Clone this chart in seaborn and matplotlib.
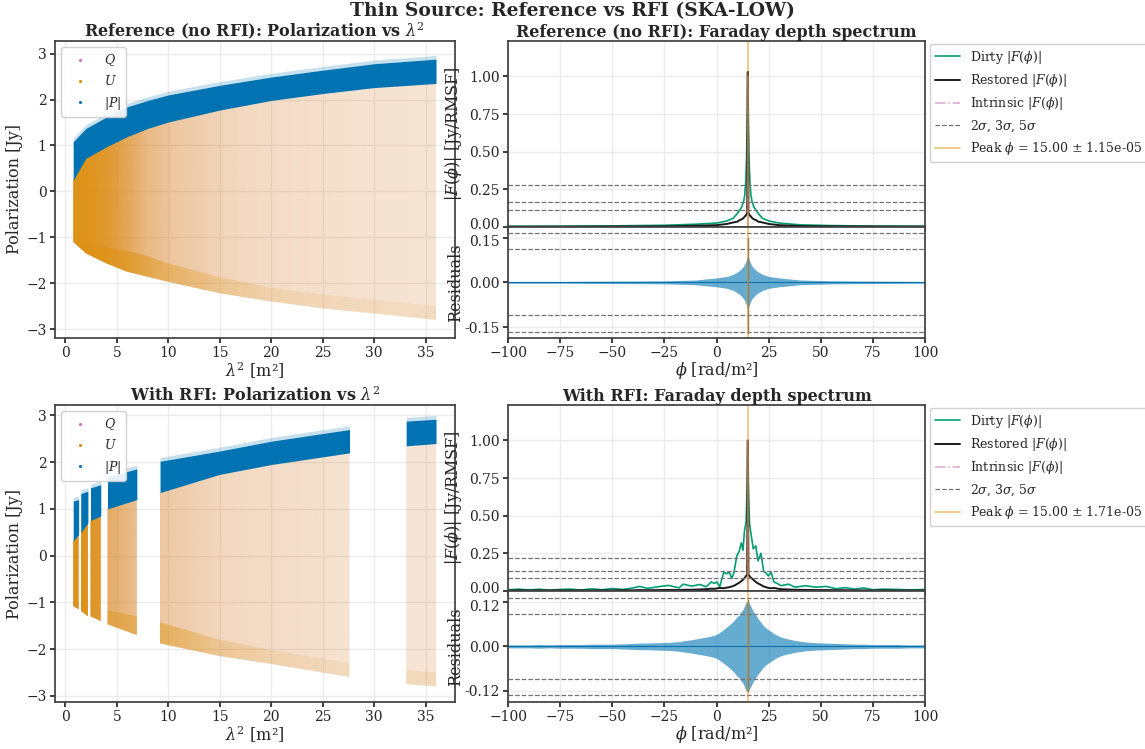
import numpy as np
import matplotlib
matplotlib.use("Agg")
import matplotlib.pyplot as plt
import matplotlib.transforms as mtransforms
import seaborn as sns
from matplotlib.colors import to_rgb
from matplotlib.lines import Line2D

# Data #

# left panels: envelopes of the Q/U/|P| scatter
lam2_ref = [0.77, 2, 4, 6, 8, 10, 15, 20, 25, 30, 36]
p_hi_ref = [1.08, 1.37, 1.62, 1.84, 1.98, 2.10, 2.31, 2.49, 2.64, 2.78, 2.88]
p_lo_ref = [0.24, 0.72, 0.97, 1.19, 1.37, 1.51, 1.77, 1.98, 2.13, 2.26, 2.35]
qu_lo_ref = [-1.10, -1.35, -1.57, -1.75, -1.86, -1.97, -2.22, -2.40, -2.55, -2.66, -2.80]
qu_dens_ref = [1.0, 1.0, 0.9, 0.7, 0.5, 0.4, 0.28, 0.22, 0.2, 0.18, 0.17]
edge_w_ref = [0.0, 0.2, 0.35, 0.45, 0.45, 0.4, 0.35, 0.3, 0.3, 0.3, 0.3]
edge_dens_ref = [0.0, 0.3, 0.5, 0.55, 0.5, 0.4, 0.25, 0.15, 0.12, 0.1, 0.1]

rfi_blocks = [(0.77, 1.3), (1.5, 2.2), (2.45, 3.45), (4.1, 6.95), (9.2, 27.6), (33.1, 36.0)]
lam2_rfi = [0.77, 1.3, 1.5, 2.2, 2.45, 3.45, 4.1, 6.95, 9.2, 15, 20, 27.6, 33.1, 36.0]
p_hi_rfi = [1.17, 1.20, 1.33, 1.38, 1.45, 1.52, 1.68, 1.86, 2.02, 2.24, 2.45, 2.70, 2.88, 2.92]
p_lo_rfi = [0.31, 0.45, 0.49, 0.70, 0.75, 0.85, 1.00, 1.20, 1.35, 1.74, 1.95, 2.20, 2.35, 2.40]
qu_lo_rfi = [-1.08, -1.15, -1.18, -1.30, -1.30, -1.40, -1.47, -1.70, -1.88, -2.15, -2.32, -2.60, -2.75, -2.80]
qu_dens_rfi = [1.0, 1.0, 1.0, 1.0, 0.95, 0.9, 0.65, 0.45, 0.38, 0.26, 0.22, 0.18, 0.16, 0.16]
edge_w_rfi = [0, 0, 0, 0, 0, 0, 0.3, 0.4, 0.45, 0.35, 0.3, 0.3, 0.3, 0.3]
edge_dens_rfi = [0, 0, 0, 0, 0, 0, 0.35, 0.45, 0.5, 0.25, 0.15, 0.1, 0.15, 0.15]

# right panels: Faraday depth spectra
phi_ref = [-100, -75, -50, -25, -10, 0, 5, 8, 10, 11, 12, 13, 13.5, 14, 14.4, 14.7, 15,
           15.3, 15.6, 16, 16.5, 17, 18, 19, 20, 22, 25, 30, 40, 55, 75, 100]
dirty_ref = [0.004, 0.005, 0.007, 0.011, 0.018, 0.026, 0.04, 0.058, 0.09, 0.11, 0.13, 0.17, 0.21,
             0.3, 0.45, 0.7, 1.03, 0.7, 0.45, 0.3, 0.21, 0.17, 0.13, 0.11, 0.09, 0.058, 0.04,
             0.026, 0.014, 0.009, 0.006, 0.005]
restored_ref = [0.002, 0.002, 0.003, 0.004, 0.008, 0.012, 0.02, 0.03, 0.035, 0.045, 0.05, 0.06,
                0.07, 0.075, 0.085, 0.09, 1.03, 0.09, 0.085, 0.075, 0.07, 0.06, 0.05, 0.045,
                0.035, 0.03, 0.02, 0.012, 0.006, 0.004, 0.003, 0.002]
resid_env_ref = [0.003, 0.003, 0.004, 0.005, 0.008, 0.015, 0.02, 0.027, 0.035, 0.04, 0.047, 0.055,
                 0.062, 0.07, 0.078, 0.085, 0.095, 0.085, 0.078, 0.07, 0.062, 0.055, 0.047, 0.04,
                 0.035, 0.027, 0.02, 0.015, 0.008, 0.005, 0.004, 0.003]
resid_spike_ref = [0.15, -0.17]
sigma_ref = 0.0552
peak_err_ref = "1.15e-05"

phi_rfi = [-100, -95, -90, -85, -80, -75, -70, -65, -60, -55, -50, -45, -40, -37, -33, -28, -23,
           -18, -16, -12, -8, -5, -2.5, -1, 0.2, 1.5, 3.5, 4.8, 6.1, 7.3, 8.4, 9.7, 10.9, 11.9,
           12.7, 13.4, 14.2, 14.7, 15, 15.3, 15.8, 16.3, 17.6, 18.8, 19.9, 21.3, 22.6, 23.7, 24.9,
           26.2, 27.5, 29.1, 31, 34.4, 37.7, 42.6, 47.6, 52.5, 57.4, 62, 66, 70.6, 75, 80, 87, 93, 100]
dirty_rfi = [0.008, 0.012, 0.007, 0.011, 0.006, 0.01, 0.012, 0.006, 0.014, 0.008,
             0.016, 0.01, 0.02, 0.03, 0.017, 0.028, 0.037, 0.02, 0.045, 0.032,
             0.043, 0.028, 0.06, 0.05, 0.06, 0.028, 0.125, 0.114, 0.125, 0.082,
             0.125, 0.233, 0.265, 0.32, 0.27, 0.4, 0.46, 0.7, 0.98, 0.7,
             0.45, 0.4, 0.28, 0.3, 0.2, 0.25, 0.13, 0.12, 0.1, 0.125,
             0.06, 0.05, 0.035, 0.045, 0.025, 0.035, 0.025, 0.03, 0.015, 0.022,
             0.012, 0.02, 0.008, 0.012, 0.01, 0.007, 0.01]
restored_rfi = [0.003, 0.004, 0.003, 0.004, 0.003, 0.004, 0.003, 0.004, 0.003, 0.004,
                0.004, 0.005, 0.004, 0.006, 0.005, 0.006, 0.007, 0.006, 0.008, 0.008,
                0.01, 0.012, 0.015, 0.014, 0.017, 0.02, 0.018, 0.022, 0.025, 0.03,
                0.035, 0.045, 0.055, 0.065, 0.075, 0.085, 0.1, 0.107, 1.0, 0.107,
                0.1, 0.09, 0.075, 0.06, 0.05, 0.04, 0.03, 0.025, 0.02, 0.018,
                0.02, 0.016, 0.012, 0.01, 0.008, 0.007, 0.006, 0.006, 0.005, 0.005,
                0.004, 0.004, 0.003, 0.004, 0.003, 0.003, 0.003]
resid_env_rfi = [0.004, 0.004, 0.004, 0.005, 0.004, 0.005, 0.005, 0.005, 0.006, 0.006,
                 0.006, 0.007, 0.008, 0.009, 0.009, 0.01, 0.011, 0.013, 0.015, 0.018,
                 0.022, 0.025, 0.028, 0.03, 0.033, 0.038, 0.046, 0.052, 0.058, 0.064,
                 0.07, 0.08, 0.085, 0.095, 0.1, 0.11, 0.12, 0.122, 0.125, 0.122,
                 0.115, 0.11, 0.095, 0.085, 0.075, 0.065, 0.055, 0.05, 0.045, 0.04,
                 0.035, 0.03, 0.025, 0.02, 0.016, 0.012, 0.01, 0.009, 0.008, 0.007,
                 0.006, 0.006, 0.005, 0.005, 0.005, 0.004, 0.004]
resid_spike_rfi = [0.125, -0.12]
sigma_rfi = 0.0435
peak_err_rfi = "1.71e-05"

phi_peak = 15.0
phi_intr = [-100, 14.9, 15, 15.1, 100]
intr_vals = [0, 0, 1.0, 0, 0]

# Style #

sns.set_theme(style="whitegrid", rc={
    "xtick.bottom": True, "ytick.left": True,
    "xtick.major.size": 3.5, "ytick.major.size": 3.5,
    "xtick.major.pad": 2.5, "ytick.major.pad": 2.5,
    "xtick.labelsize": 10, "ytick.labelsize": 10,
    "axes.edgecolor": "0.25", "grid.color": "0.92",
})
plt.rcParams["font.family"] = ["DejaVu Serif"]
plt.rcParams["mathtext.fontset"] = "dejavuserif"

pal = sns.color_palette("colorblind")
C_P, C_U, C_DIRTY, C_Q = pal[0], pal[1], pal[2], pal[4]
C_PEAK = pal[1]
LABEL_FS = 11.5
TITLE_FS = 11.5


# Helpers #


def gradient_fill(ax, x, lo, hi, dens, color, scale, zorder):
	"""Fill between lo and hi, alpha following the read density along x."""
	poly = ax.fill_between(x, lo, hi, color="none", lw=0)
	grid = np.linspace(min(x), max(x), 300)
	rgba = np.zeros((1, len(grid), 4))
	rgba[..., :3] = to_rgb(color)
	rgba[0, :, 3] = np.clip(np.interp(grid, x, dens) * scale, 0, 1)
	im = ax.imshow(rgba, extent=[min(x), max(x), min(lo), max(hi)], aspect="auto",
	               origin="lower", zorder=zorder, interpolation="bilinear")
	im.set_clip_path(poly.get_paths()[0], ax.transData)


def pol_panel(ax, lam2, p_hi, p_lo, qu_lo, dens, edge_w, edge_dens, blocks, title, ylim):
	lam2 = np.array(lam2)
	for a, b in blocks:
		m = (lam2 >= a) & (lam2 <= b)
		x = lam2[m]
		lo = np.array(qu_lo)[m]
		top = np.array(p_lo)[m]
		hi = np.array(p_hi)[m]
		gradient_fill(ax, x, lo, top, np.array(dens)[m], C_Q, 0.5, 1)
		gradient_fill(ax, x, lo, top, np.array(dens)[m], C_U, 0.9, 2)
		ew = np.array(edge_w)[m]
		if ew.max() > 0:
			gradient_fill(ax, x, lo, lo + ew, np.array(edge_dens)[m], C_U, 0.9, 3)
		# sparse points above the |P| band
		ax.fill_between(x, hi, hi + 0.08, color=C_P, alpha=0.22, lw=0, zorder=4)
		ax.fill_between(x, top, hi, color=C_P, lw=0, zorder=4)
	ax.set_xlim(-1.0, 37.8)
	ax.set_ylim(*ylim)
	ax.set_xticks(range(0, 40, 5))
	ax.set_yticks(range(-3, 4))
	ax.set_xlabel(r"$\lambda^2$ [m²]", fontsize=LABEL_FS, labelpad=0)
	ax.set_ylabel("Polarization [Jy]", fontsize=LABEL_FS, labelpad=2)
	ax.set_title(title, fontsize=TITLE_FS, fontweight="bold", pad=3)
	handles = [Line2D([], [], ls="none", marker=".", ms=2.5, color=c) for c in (C_Q, C_U, C_P)]
	ax.legend(handles, ["$Q$", "$U$", "$|P|$"], loc="upper left", fontsize=9,
	          handlelength=2.2, framealpha=0.9)


def spec_panel(ax, axr, phi, dirty, restored, env, spike, sigma, err, title, rlim, rticks):
	sns.lineplot(x=phi, y=dirty, ax=ax, color=C_DIRTY, lw=1.2, estimator=None, sort=False,
	             label=r"Dirty $|F(\phi)|$")
	sns.lineplot(x=phi, y=restored, ax=ax, color="#1a1a1a", lw=1.4, estimator=None, sort=False,
	             label=r"Restored $|F(\phi)|$")
	sns.lineplot(x=phi_intr, y=intr_vals, ax=ax, color=C_Q, lw=1.2, alpha=0.6, estimator=None,
	             sort=False, label=r"Intrinsic $|F(\phi)|$", linestyle="-.")
	for i, k in enumerate((2, 3, 5)):
		ax.axhline(k * sigma, color="0.45", ls="--", lw=0.9,
		           label=r"$2\sigma$, $3\sigma$, $5\sigma$" if i == 0 else None)
	ax.axvline(phi_peak, color=C_PEAK, alpha=0.55, lw=1.2,
	           label=r"Peak $\phi$ = %.2f ± %s" % (phi_peak, err))
	ax.set_ylim(0, 1.234)
	ax.set_yticks([0, 0.25, 0.5, 0.75, 1.0])
	ax.set_ylabel(r"$|F(\phi)|$ [Jy/RMSF]", fontsize=LABEL_FS)
	ax.set_title(title, fontsize=TITLE_FS, fontweight="bold", pad=3)
	ax.tick_params(labelbottom=False)
	ax.legend(loc="upper left", bbox_to_anchor=(1.005, 1.0), fontsize=9, framealpha=0.9,
	          borderaxespad=0.2)

	env = np.array(env)
	axr.fill_between(phi, -env, env, color=C_P, alpha=0.6, lw=0)
	sns.lineplot(x=phi, y=np.zeros(len(phi)), ax=axr, color=C_P, lw=0.8, estimator=None, sort=False)
	sns.lineplot(x=[phi_peak, phi_peak], y=spike, ax=axr, color="0.45", lw=1.0, estimator=None,
	             sort=False)
	for k in (2, 3, 5):
		for s in (1, -1):
			axr.axhline(s * k * sigma, color="0.45", ls="--", lw=0.9)
	axr.axvline(phi_peak, color=C_PEAK, alpha=0.55, lw=1.2)
	axr.set_ylim(-rlim, rlim)
	axr.set_yticks([-rticks, 0, rticks])
	axr.set_yticklabels(["-%.2f" % rticks, "0.00", "%.2f" % rticks])
	axr.set_xlim(-100, 100)
	ax.set_xlim(-100, 100)
	axr.set_xticks(range(-100, 101, 25))
	axr.set_xlabel(r"$\phi$ [rad/m²]", fontsize=LABEL_FS, labelpad=0)
	axr.set_ylabel("Residuals", fontsize=LABEL_FS)
	ax.yaxis.set_label_coords(-0.105, 0.5)
	axr.yaxis.set_label_coords(-0.105, 0.5)


def nudge(label, dy_px):
	label.set_transform(label.get_transform() +
	                    mtransforms.ScaledTranslation(0, dy_px / 100.0, fig.dpi_scale_trans))


# Main #

fig = plt.figure(figsize=(11.45, 7.49), dpi=100)

ax1 = fig.add_axes([0.048, 0.549, 0.349, 0.396])
ax3 = fig.add_axes([0.048, 0.063, 0.349, 0.396])
ax2 = fig.add_axes([0.4437, 0.697, 0.3642, 0.248])
ax2r = fig.add_axes([0.4437, 0.549, 0.3642, 0.148], sharex=ax2)
ax4 = fig.add_axes([0.4437, 0.211, 0.3642, 0.248])
ax4r = fig.add_axes([0.4437, 0.063, 0.3642, 0.148], sharex=ax4)

pol_panel(ax1, lam2_ref, p_hi_ref, p_lo_ref, qu_lo_ref, qu_dens_ref, edge_w_ref, edge_dens_ref,
          [(0.77, 36.0)], r"Reference (no RFI): Polarization vs $\lambda^2$", (-3.19, 3.27))
pol_panel(ax3, lam2_rfi, p_hi_rfi, p_lo_rfi, qu_lo_rfi, qu_dens_rfi, edge_w_rfi, edge_dens_rfi,
          rfi_blocks, r"With RFI: Polarization vs $\lambda^2$", (-3.13, 3.22))

spec_panel(ax2, ax2r, phi_ref, dirty_ref, restored_ref, resid_env_ref, resid_spike_ref, sigma_ref,
           peak_err_ref, "Reference (no RFI): Faraday depth spectrum", 0.186, 0.15)
spec_panel(ax4, ax4r, phi_rfi, dirty_rfi, restored_rfi, resid_env_rfi, resid_spike_rfi, sigma_rfi,
           peak_err_rfi, "With RFI: Faraday depth spectrum", 0.15, 0.12)

fig.suptitle("Thin Source: Reference vs RFI (SKA-LOW)", fontsize=13.5, fontweight="bold", y=0.997)

# keep the stacked "0.00" / top residual tick labels apart
fig.canvas.draw()
for top_ax, res_ax in ((ax2, ax2r), (ax4, ax4r)):
	nudge(top_ax.yaxis.get_major_ticks()[0].label1, 3)
	nudge(res_ax.yaxis.get_major_ticks()[-1].label1, -3)

fig.savefig("out.png", dpi=100)
